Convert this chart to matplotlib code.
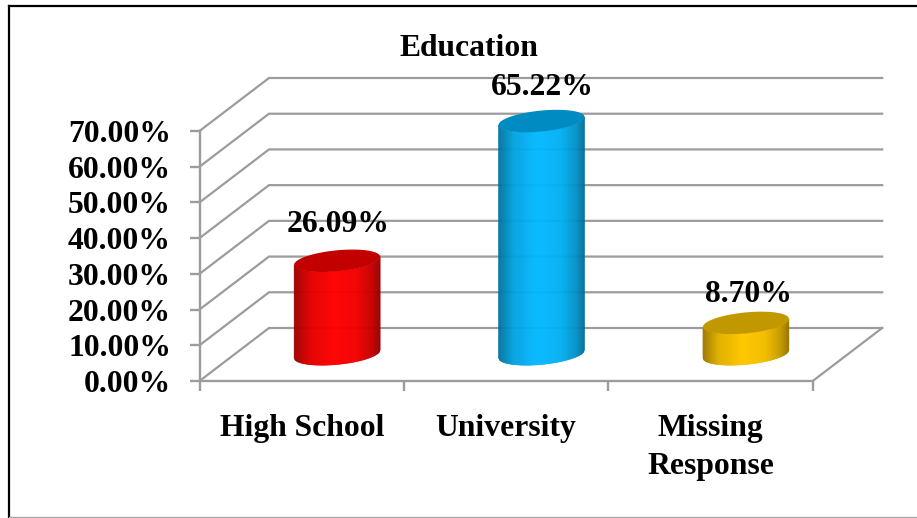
import numpy as np
import matplotlib
matplotlib.use("Agg")
import matplotlib.pyplot as plt
from matplotlib.colors import to_rgb
from matplotlib.lines import Line2D

categories = ["High School", "University", "Missing\nResponse"]
values = [26.09, 65.22, 8.70]
labels = ["26.09%", "65.22%", "8.70%"]
colors = ["#ff0000", "#00b8ff", "#ffc800"]
y_ticks = [0, 10, 20, 30, 40, 50, 60, 70]
y_labels = ["0.00%", "10.00%", "20.00%", "30.00%", "40.00%", "50.00%", "60.00%", "70.00%"]

plt.rcParams["font.family"] = ["Liberation Serif", "DejaVu Serif"]
plt.rcParams["font.weight"] = "bold"

W, H = 917, 518
GRAY = "#9c9c9c"

fig = plt.figure(figsize=(W / 100, H / 100), dpi=100)
ax = fig.add_axes([199.5 / W, (H - 381) / H, 613.2 / W, 250 / H])
ax.set_xlim(0, 3)
ax.set_ylim(0, 70)
ax.patch.set_visible(False)

# depth of the fake 3d box, in data units
px_x = 613.2 / 3
px_y = 250 / 70
depth_x = 69.5 / px_x
depth_y = 53 / px_y

for v in y_ticks:
    ax.plot([0, depth_x, 3 + depth_x], [v, v + depth_y, v + depth_y],
            color=GRAY, lw=1.6, clip_on=False, zorder=1, solid_joinstyle="miter")
ax.plot([3, 3 + depth_x], [0, depth_y], color=GRAY, lw=1.6, clip_on=False, zorder=1)

# cylinders: tilted ellipses top and bottom, shaded strips between
a = 43 / px_x
b = 10.5 / px_y
s = 4 / px_y
base = 0.51 * depth_y
shift_x = 0.51 * depth_x
stops_u = [-1, -0.65, -0.1, 0.45, 0.8, 1]
stops_f = [0.62, 0.88, 1, 0.95, 0.78, 0.58]

for i, v in enumerate(values):
    cx = i + 0.5 + shift_x
    col = np.array(to_rgb(colors[i]))
    u = np.linspace(-1, 1, 87)
    arc = -np.sqrt(1 - u ** 2) * b + s * u
    f = np.interp(u, stops_u, stops_f)
    for k in range(len(u) - 1):
        xs = [cx + a * u[k], cx + a * u[k + 1], cx + a * u[k + 1], cx + a * u[k]]
        ys = [base + arc[k], base + arc[k + 1], base + v + arc[k + 1], base + v + arc[k]]
        ax.fill(xs, ys, color=col * f[k], lw=0.4, clip_on=False, zorder=3)
    t = np.linspace(0, 2 * np.pi, 200)
    ax.fill(cx + a * np.cos(t), base + v + b * np.sin(t) + s * np.cos(t),
            color=col * 0.76, lw=0, clip_on=False, zorder=4)

label_dx = [1, 1, 3]
label_dy = [29, 26.5, 21]
for i, v in enumerate(values):
    cx = i + 0.5 + shift_x
    ax.annotate(labels[i], (cx, base + v), xytext=(label_dx[i] * 0.72, label_dy[i] * 0.72),
                textcoords="offset points", ha="center", va="baseline",
                fontsize=22.8, fontweight="bold", color="black", zorder=6,
                annotation_clip=False)

for side in ["top", "right"]:
    ax.spines[side].set_visible(False)
for side in ["left", "bottom"]:
    ax.spines[side].set_color(GRAY)
    ax.spines[side].set_linewidth(1.7)

ax.set_yticks(y_ticks)
ax.set_yticklabels(y_labels, fontsize=22.8, fontweight="bold")
ax.tick_params(axis="y", length=7, width=1.7, color=GRAY, pad=13.5)
ax.set_xticks([0, 1, 2, 3])
ax.set_xticklabels([])
ax.tick_params(axis="x", which="major", length=7, width=1.7, color=GRAY)
ax.set_xticks([0.5, 1.5, 2.5], minor=True)
ax.set_xticklabels(categories, minor=True, fontsize=22.8, fontweight="bold", linespacing=1.38)
ax.tick_params(axis="x", which="minor", length=0, pad=24)

fig.text(468.5 / W, 1 - 48 / H, "Education", ha="center", va="center",
         fontsize=22.8, fontweight="bold")

# outer frame of the pasted picture
fig.add_artist(Line2D([9 / W, 9 / W], [0, 1 - 6 / H], color="black", lw=1.6))
fig.add_artist(Line2D([9 / W, 1], [1 - 6 / H, 1 - 6 / H], color="black", lw=1.6))
fig.add_artist(Line2D([9 / W, 1], [1 / H, 1 / H], color="#a8a8a8", lw=1))

fig.savefig("out.png", dpi=100)
